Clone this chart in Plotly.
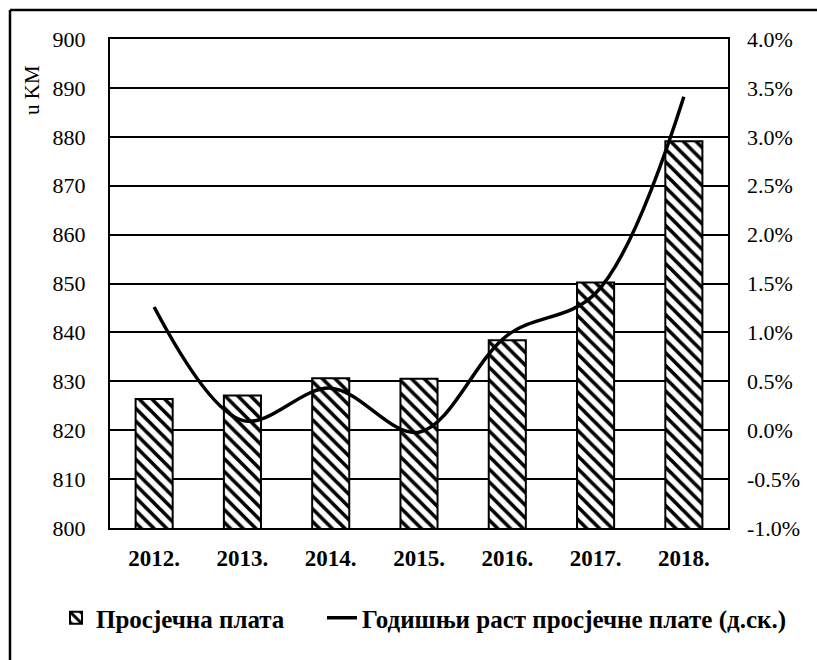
import plotly.graph_objects as go

years = ["2012.", "2013.", "2014.", "2015.", "2016.", "2017.", "2018."]
avg_wage = [826.4, 827.1, 830.6, 830.5, 838.4, 850.2, 879.1]
growth_pct = [1.26, 0.10, 0.43, -0.02, 0.97, 1.40, 3.41]
growth_ticks = [-1.0, -0.5, 0.0, 0.5, 1.0, 1.5, 2.0, 2.5, 3.0, 3.5, 4.0]
growth_tick_labels = ["-1.0%", "-0.5%", "0.0%", "0.5%", "1.0%", "1.5%",
                      "2.0%", "2.5%", "3.0%", "3.5%", "4.0%"]

wage_name = "Просјечна плата"
growth_name = "Годишњи раст просјечне плате (д.ск.)"
y_title = "u KM"

FONT = "Liberation Serif"

# figure size and plot-area position (page pixels, body margin removed)
W, H = 817, 660
PL, PR, PT, PB = 110, 728, 39, 528
L, T = PL, PT
R, B = W - PR, H - PB
pw, ph = PR - PL, PB - PT


def px(xp):
    return (xp - PL) / pw


def py(yp):
    return (PB - yp) / ph


fig = go.Figure()
fig.add_trace(go.Bar(
    x=years, y=avg_wage, name=wage_name, yaxis="y", legend="legend",
    width=0.42,
    marker=dict(color="white", line=dict(color="black", width=2),
                pattern=dict(shape="\\", fgcolor="black", bgcolor="white",
                             size=9, solidity=0.4, fillmode="replace")),
))
fig.add_trace(go.Scatter(
    x=years, y=growth_pct, name=growth_name, yaxis="y2", legend="legend2",
    mode="lines", line=dict(color="black", width=3.5, shape="spline", smoothing=1.0),
))

legend_font = dict(family=FONT, size=25, color="black", weight="bold")

fig.update_layout(
    width=W, height=H,
    margin=dict(l=L, r=R, t=T, b=B, pad=0),
    paper_bgcolor="white", plot_bgcolor="white",
    font=dict(family=FONT, color="black", size=22),
    showlegend=True,
    hovermode=False,
    legend=dict(orientation="h", x=px(56), y=py(618), xanchor="left",
                yanchor="middle", font=legend_font, bgcolor="rgba(0,0,0,0)"),
    legend2=dict(orientation="h", x=px(322), y=py(618), xanchor="left",
                 yanchor="middle", font=legend_font, bgcolor="rgba(0,0,0,0)"),
    xaxis=dict(showline=True, linecolor="black", linewidth=2, mirror=True,
               ticks="", tickfont=dict(family=FONT, size=23, weight="bold"),
               ticklabelstandoff=8, showgrid=False),
    yaxis=dict(range=[800, 900], dtick=10, showline=True, linecolor="black",
               linewidth=2, mirror=True, showgrid=True, gridcolor="black",
               gridwidth=2, ticks="", ticklabelstandoff=18, zeroline=False,
               tickfont=dict(family=FONT, size=22)),
    yaxis2=dict(range=[-1.0, 4.0], overlaying="y", side="right",
                showgrid=False, ticks="", tickmode="array",
                tickvals=growth_ticks, ticktext=growth_tick_labels,
                ticklabelstandoff=18, zeroline=False,
                tickfont=dict(family=FONT, size=22)),
)

fig.add_annotation(text=y_title, xref="paper", yref="paper",
                   x=px(32), y=py(90), textangle=-90,
                   showarrow=False, font=dict(family=FONT, size=21, color="black"),
                   xanchor="center", yanchor="middle")

# outer frame: only its top and left edges are visible in the reference
fig.add_shape(type="line", xref="paper", yref="paper",
              x0=px(10), x1=px(830), y0=py(10), y1=py(10),
              line=dict(color="black", width=2.5), layer="below")
fig.add_shape(type="line", xref="paper", yref="paper",
              x0=px(10), x1=px(10), y0=py(10), y1=py(680),
              line=dict(color="black", width=2.5), layer="below")

page_js = ("document.documentElement.style.overflow='hidden';"
           "document.body.style.margin='0';"
           "document.body.style.overflow='hidden';")

fig.write_html("out.html", post_script=page_js,
               config={"displayModeBar": False, "staticPlot": True})
